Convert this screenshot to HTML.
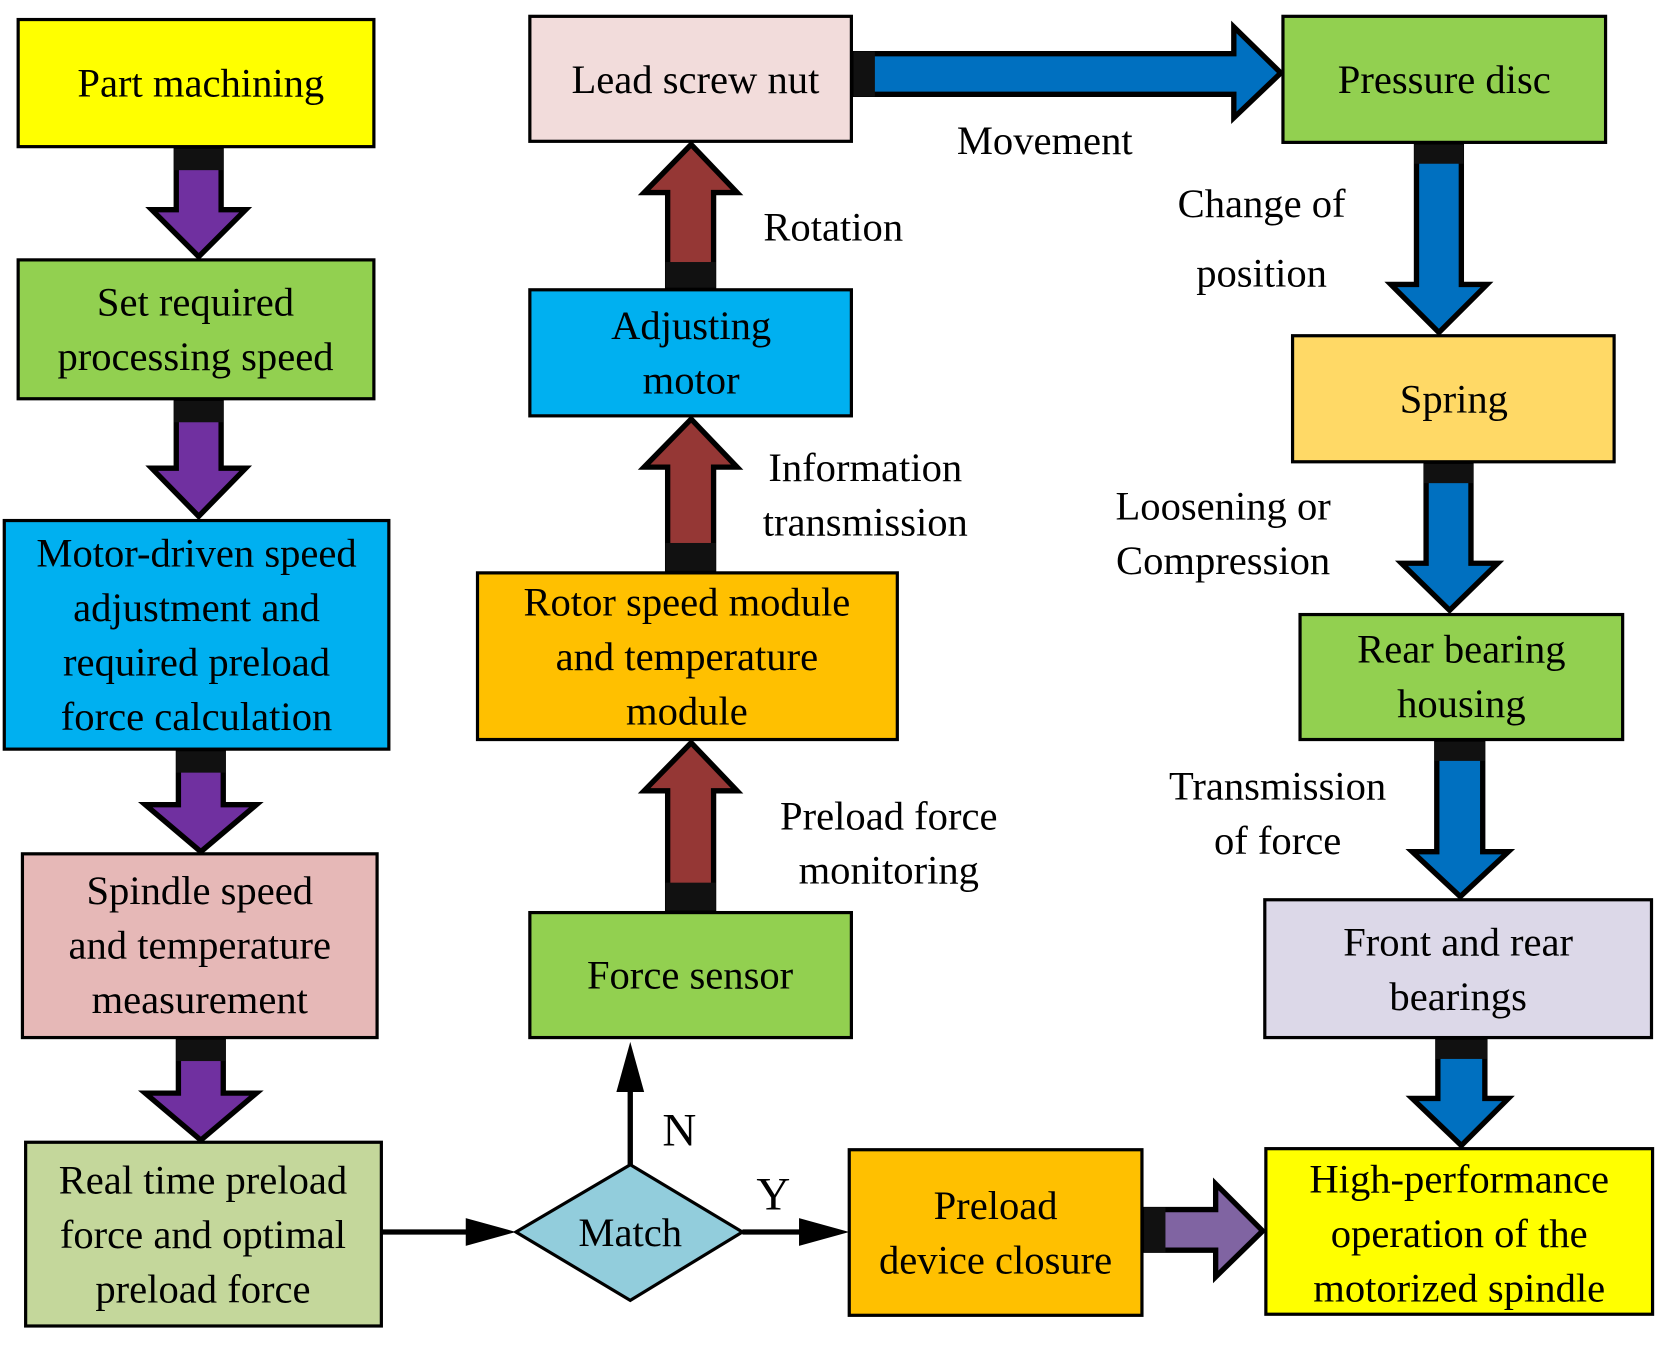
<!DOCTYPE html>
<html><head><meta charset="utf-8"><style>html,body{margin:0;padding:0;background:#fff}svg{display:block}text{font-family:"Liberation Serif","Noto Serif CJK SC","DejaVu Serif",serif;font-size:38px}</style></head>
<body>
<svg width="1675" height="1353" viewBox="0 0 1568 1266" xmlns="http://www.w3.org/2000/svg" text-anchor="middle">
<g stroke="#000" stroke-width="3">
<rect x="17" y="18" width="333" height="119" fill="#ffff00"/>
<rect x="17" y="243" width="333" height="130" fill="#92d050"/>
<rect x="4" y="487" width="360" height="214" fill="#00b0f0"/>
<rect x="21" y="799" width="332" height="172" fill="#e6b8b7"/>
<rect x="24" y="1069" width="333" height="172" fill="#c4d79b"/>
<polygon points="483,1153 590,1090 695,1153 590,1217" fill="#92cddc"/>
<rect x="496" y="854" width="301" height="117" fill="#92d050"/>
<rect x="447" y="536" width="393" height="156" fill="#ffc000"/>
<rect x="496" y="271" width="301" height="118" fill="#00b0f0"/>
<rect x="496" y="15" width="301" height="117" fill="#f2dcdb"/>
<rect x="1201" y="15" width="302" height="118" fill="#92d050"/>
<rect x="1210" y="314" width="301" height="118" fill="#ffd966"/>
<rect x="1217" y="575" width="302" height="117" fill="#92d050"/>
<rect x="1184" y="842" width="362" height="129" fill="#dcd8e8"/>
<rect x="1185" y="1075" width="362" height="155" fill="#ffff00"/>
<rect x="795" y="1076" width="274" height="155" fill="#ffc000"/>
<g fill="#7030a0" stroke-width="5">
<path d="M165,140 H207 V196 H230 L186,240 L142,196 H165 Z"/>
<path d="M165,376 H207 V438 H230 L186,483 L142,438 H165 Z"/>
<path d="M167,704 H209 V753 H240 L188,797 L136,753 H167 Z"/>
<path d="M167,974 H209 V1023 H240 L188,1067 L136,1023 H167 Z"/>
</g>
<g fill="#953735" stroke-width="5">
<path d="M625,852 V740 H603 L647,695 L690,740 H668 V852 Z"/>
<path d="M625,534 V437 H603 L647,392 L690,437 H668 V534 Z"/>
<path d="M625,269 V180 H603 L647,135 L690,180 H668 V269 Z"/>
</g>
<g fill="#0070c0" stroke-width="5">
<path d="M800,50 H1155 V25 L1199,68 L1155,110 V88 H800 Z"/>
<path d="M1326,136 V266 H1302 L1347,311 L1392,266 H1368 V136 Z"/>
<path d="M1335,435 V527 H1312 L1357,571 L1402,527 H1377 V435 Z"/>
<path d="M1345,695 V797 H1322 L1367,839 L1412,797 H1388 V695 Z"/>
<path d="M1346,974 V1028 H1322 L1368,1072 L1412,1028 H1390 V974 Z"/>
</g>
<path d="M1072,1132 H1138 V1108 L1182,1152 L1138,1195 V1170 H1072 Z" fill="#8064a2" stroke-width="5"/>
<g fill="#111" stroke="none">
<rect x="163" y="139" width="46" height="20"/>
<rect x="163" y="375" width="46" height="20"/>
<rect x="165" y="703" width="46" height="20"/>
<rect x="165" y="973" width="46" height="20"/>
<rect x="623" y="826" width="47" height="26"/>
<rect x="623" y="508" width="47" height="26"/>
<rect x="623" y="245" width="47" height="24"/>
<rect x="799" y="48" width="20" height="42"/>
<rect x="1324" y="135" width="46" height="18"/>
<rect x="1333" y="434" width="46" height="18"/>
<rect x="1343" y="694" width="47" height="18"/>
<rect x="1344" y="973" width="48" height="18"/>
<rect x="1071" y="1130" width="20" height="42"/>
</g>
<g stroke-width="5">
<line x1="357" y1="1153" x2="440" y2="1153"/>
<line x1="695" y1="1153" x2="752" y2="1153"/>
<line x1="590" y1="1090" x2="590" y2="1018"/>
</g>
<g stroke="none" fill="#000">
<path d="M436,1140 L483,1153 L436,1166 Z"/>
<path d="M748,1140 L795,1153 L748,1166 Z"/>
<path d="M577,1022 L590,975 L603,1022 Z"/>
</g>
</g>
<g fill="#000">
<text x="188" y="90">Part machining</text>
<text x="183" y="295">Set required</text><text x="183" y="346">processing speed</text>
<text x="184" y="530">Motor-driven speed</text><text x="184" y="581">adjustment and</text><text x="184" y="632">required preload</text><text x="184" y="683">force calculation</text>
<text x="187" y="846">Spindle speed</text><text x="187" y="897">and temperature</text><text x="187" y="948">measurement</text>
<text x="190" y="1117">Real time preload</text><text x="190" y="1168">force and optimal</text><text x="190" y="1219">preload force</text>
<text x="590" y="1166">Match</text>
<text x="646" y="925">Force sensor</text>
<text x="643" y="576">Rotor speed module</text><text x="643" y="627">and temperature</text><text x="643" y="678">module</text>
<text x="647" y="317">Adjusting</text><text x="647" y="368">motor</text>
<text x="651" y="87">Lead screw nut</text>
<text x="1352" y="87">Pressure disc</text>
<text x="1361" y="386">Spring</text>
<text x="1368" y="620">Rear bearing</text><text x="1368" y="671">housing</text>
<text x="1365" y="894">Front and rear</text><text x="1365" y="945">bearings</text>
<text x="1366" y="1116">High-performance</text><text x="1366" y="1167">operation of the</text><text x="1366" y="1218">motorized spindle</text>
<text x="932" y="1141">Preload</text><text x="932" y="1192">device closure</text>
<text x="978" y="144">Movement</text>
<text x="780" y="225">Rotation</text>
<text x="810" y="450">Information</text><text x="810" y="501">transmission</text>
<text x="832" y="776">Preload force</text><text x="832" y="827">monitoring</text>
<text x="1181" y="203">Change of</text><text x="1181" y="268">position</text>
<text x="1145" y="486">Loosening  or</text><text x="1145" y="537">Compression</text>
<text x="1196" y="748">Transmission</text><text x="1196" y="799">of force</text>
<text x="636" y="1072" style="font-size:44px">N</text>
<text x="724" y="1132" style="font-size:44px">Y</text>
</g>
</svg>
</body></html>
